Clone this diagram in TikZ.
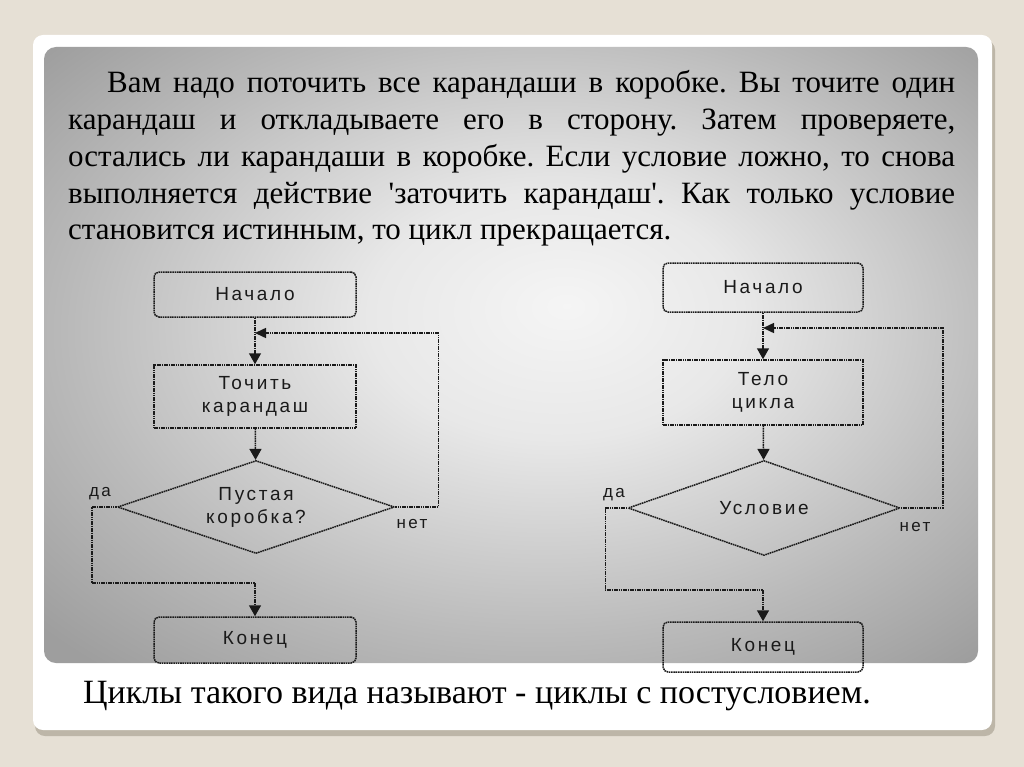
\documentclass[tikz,border=0pt]{standalone}
\usepackage{fontspec}
\setmainfont{Liberation Serif}
\newfontfamily\bodyfont{Liberation Serif}
\newfontfamily\flowfont[LetterSpace=14]{Liberation Sans}
\usetikzlibrary{arrows.meta,shapes.geometric,positioning}
\definecolor{paper}{HTML}{E6E0D5}
\definecolor{shadow}{HTML}{BDB6A8}
\definecolor{ink}{HTML}{1A1A1A}
\pgfdeclareradialshading{panelshade}{\pgfpoint{3bp}{4bp}}{%
  color(0bp)=(black!4); color(10bp)=(black!9); color(25bp)=(black!27);
  color(35bp)=(black!38); color(50bp)=(black!38)}

\tikzset{
  flowline/.style={ink, line width=1.5pt, dash pattern=on 1.6pt off 0.7pt},
  flowarrow/.style={flowline, -{Triangle[width=12pt,length=11pt]}},
  looparrow/.style={flowline, -{Triangle[width=10pt,length=11pt]}},
  terminal/.style={flowline, draw, rounded corners=5pt, minimum width=202pt,
    minimum height=46pt, inner sep=0pt, text=ink,
    font=\flowfont\fontsize{19}{23}\selectfont},
  process/.style={terminal, rounded corners=0pt, minimum height=63pt, align=center},
  decision/.style={terminal, rounded corners=0pt, diamond, aspect=3,
    minimum width=277pt, minimum height=93pt, align=center},
  branch/.style={text=ink, inner sep=0pt, font=\flowfont\fontsize{17}{17}\selectfont},
  line/.style={anchor=base west, inner sep=0pt, font=\bodyfont\fontsize{31}{37}\selectfont}
}

\begin{document}
\frenchspacing
\begin{tikzpicture}[x=1pt, y=-1pt]
  \useasboundingbox (0,0) rectangle (1024,767);
  \fill[paper] (0,0) rectangle (1024,767);
  % card and panel
  \fill[shadow, rounded corners=10pt] (35,40) rectangle (995,736);
  \fill[white, rounded corners=10pt] (33,35) rectangle (992,730);
  \shade[shading=panelshade, rounded corners=12pt] (44,47) rectangle (978,663);

  % text above the charts
  \node[line] (line1) at (107,93) {\makebox[848pt][s]{Вам надо поточить все карандаши в коробке. Вы точите один}};
  \node[line] (line2) at (68,130) {\makebox[887pt][s]{карандаш и откладываете его в сторону. Затем проверяете,}};
  \node[line] (line3) at (68,167) {\makebox[887pt][s]{остались ли карандаши в коробке. Если условие ложно, то снова}};
  \node[line] (line4) at (68,204) {\makebox[887pt][s]{выполняется действие 'заточить карандаш'. Как только условие}};
  \node[line] (line5) at (68,240) {становится истинным, то цикл прекращается.};

  % left chart
  \node[terminal, minimum height=45pt] (start1) at (255,294.5) {Начало};
  \node[process] (body1) at (255,396.5) {Точить\\карандаш};
  \node[decision] (cond1) at (256,507) {Пустая\\коробка?};
  \node[terminal] (end1) at (255,640) {Конец};
  \coordinate (join1) at (255,333);
  \coordinate (yes1) at (255,583);
  \node[branch] (yes1lbl) at (100,494) {да};
  \node[branch] (no1lbl) at (412,524) {нет};
  \draw[flowarrow] (start1) -- (body1);
  \draw[flowarrow] (body1) -- (cond1);
  \draw[looparrow] (cond1.east) -- ++(43,0) |- (join1);
  \draw[flowline] (cond1.west) -- ++(-25,0) |- (yes1);
  \draw[flowarrow] (yes1) -- (end1);

  % right chart
  \node[terminal, minimum width=200pt, minimum height=49pt] (start2) at (763,287.5) {Начало};
  \node[process, minimum width=200pt, minimum height=65pt] (body2) at (763,392.5) {Тело\\цикла};
  \node[decision, minimum width=272pt, minimum height=95pt] (cond2) at (764,508) {Условие};
  \node[terminal, minimum width=200pt, minimum height=50pt] (end2) at (763,647) {Конец};
  \coordinate (join2) at (763,328);
  \coordinate (yes2) at (763,590);
  \node[branch] (yes2lbl) at (614,495) {да};
  \node[branch] (no2lbl) at (915,527) {нет};
  \draw[flowarrow] (start2) -- (body2);
  \draw[flowarrow] (body2) -- (cond2);
  \draw[looparrow] (cond2.east) -- ++(42,0) |- (join2);
  \draw[flowline] (cond2.west) -- ++(-22,0) |- (yes2);
  \draw[flowarrow] (yes2) -- (end2);

  % caption below the panel
  \node[line, font=\bodyfont\fontsize{34}{40}\selectfont] (caption) at (83,703) {Циклы такого вида называют - циклы с постусловием.};
\end{tikzpicture}
\end{document}
